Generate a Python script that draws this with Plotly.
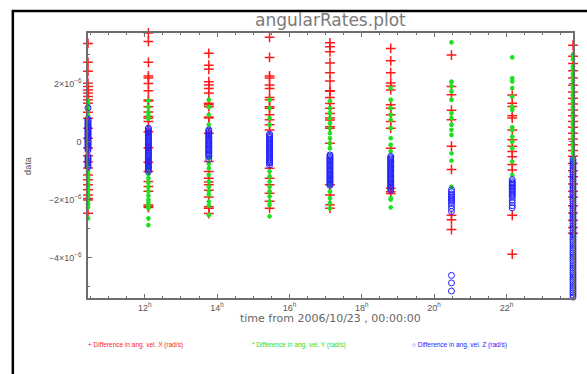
import plotly.graph_objects as go

# Pass times (hours after 2006/10/23 00:00:00)
pass_hours = [10.43, 12.10, 13.77, 15.45, 17.12, 18.80, 20.48, 22.16, 23.84]

# Differences in angular velocity, units of 1e-6 rad/s, one list per pass
diff_x = [
    [3.39, 2.74, 2.43, 2.02, 1.91, 1.79, 1.68, 1.56, 1.45, 1.33, 1.02, 0.81, 0.47, 0.12, -0.21, -0.48,
     -0.69, -0.9, -1.14, -1.31, -1.48, -1.65, -1.83, -1.95, -2.0, -2.46],
    [3.75, 3.46, 2.74, 2.27, 2.2, 2.01, 1.76, 1.44, 1.41, 1.21, 1.03, 0.87, 0.81, 0.7, 0.35, -0.2,
     -0.7, -1.02, -1.37, -1.54, -1.7, -2.18, -2.23, -2.26],
    [3.05, 2.64, 2.5, 2.07, 1.96, 1.84, 1.68, 1.33, 1.28, 1.21, 0.86, 0.82, 0.3, -0.68, -1.02, -1.25,
     -1.38, -1.48, -1.67, -1.9, -2.24, -2.29, -2.47],
    [3.6, 2.91, 2.27, 2.2, 1.96, 1.84, 1.53, 1.45, 1.21, 1.16, 0.93, 0.76, 0.59, 0.41, -0.91, -1.25,
     -1.48, -1.77, -2.05, -2.29],
    [3.41, 3.28, 3.1, 2.72, 2.38, 2.1, 1.76, 1.74, 1.53, 1.32, 1.16, 0.98, 0.82, 0.75, 0.52, 0.47,
     -0.05, -1.48, -1.83, -2.17, -2.29],
    [3.22, 2.79, 2.38, 2.03, 1.92, 1.79, 1.28, 1.16, 0.93, 0.7, 0.47, -0.22, -1.6, -1.72, -1.78],
    [2.99, 1.91, 1.62, 1.09, 0.76, -0.15, -0.95, -2.53, -2.68, -3.02],
    [1.61, 1.33, 1.22, 0.9, 0.82, 0.41, 0.07, -0.15, -0.33, -0.51, -0.78, -0.97, -2.53, -3.87],
    [3.33, 2.95, 2.7, 2.45, 2.2, 1.95, 1.72, 1.5, 1.3, 1.1, 0.9, 0.7, 0.5, 0.3, 0.1, -0.1, -0.3,
     -0.5, -0.75, -1.0, -1.2, -1.45, -1.7, -1.9, -2.2, -2.45, -2.7, -2.95, -3.15],
]

diff_y = [
    [1.42, 1.32, 1.22, 1.12, 0.92, 0.5, -0.62, -0.82, -1.0, -1.1, -1.22, -1.33, -1.45, -1.56, -1.7,
     -1.8, -1.9, -2.05, -2.15, -2.26, -2.64],
    [1.42, 1.2, 1.02, 0.9, 0.8, -0.9, -1.1, -1.25, -1.4, -1.55, -1.7, -1.85, -2.0, -2.1, -2.2, -2.28,
     -2.64, -2.87],
    [1.45, 1.2, 0.93, 0.59, -0.56, -0.75, -0.91, -1.14, -1.37, -1.54, -1.7, -1.83, -2.06, -2.2, -2.52],
    [1.45, 1.16, 0.82, 0.59, -1.02, -1.19, -1.37, -1.54, -1.71, -1.88, -2.06, -2.17, -2.57],
    [1.4, 1.16, 0.99, 0.82, 0.64, 0.47, 0.3, 0.13, -0.05, -0.22, -1.48, -1.71, -1.94, -2.11, -2.29],
    [1.85, 1.45, 1.16, 0.93, 0.76, 0.47, 0.13, -0.1, -0.33, -1.94, -1.99, -2.26],
    [3.43, 2.07, 1.91, 1.74, 1.45, 0.99, 0.82, 0.59, 0.41, 0.24, -0.4, -0.65, -1.55],
    [2.91, 2.19, 2.08, 1.85, 1.56, 1.2, 1.1, 0.5, 0.41, 0.18, 0.01, -0.22, -0.68, -1.15],
    [3.0, 2.85, 2.6, 2.5, 2.35, 2.25, 2.1, 1.95, 1.85, 1.7, 1.6, 1.45, 1.35, 1.2, 1.1, 0.95, 0.85,
     0.7, 0.6, 0.45, 0.35, 0.2, 0.1, -0.05, -0.15, -0.3, -0.4, -0.55, -0.69],
]

diff_z = [
    [1.17, 0.78, 0.73, 0.69, 0.64, 0.61, 0.56, 0.52, 0.49, 0.44, 0.4, 0.37, 0.32, 0.28, 0.25, 0.2,
     0.16, 0.13, 0.08, 0.04, 0.01, -0.04, -0.08, -0.11, -0.16, -0.2, -0.23, -0.29, -0.5, -0.55,
     -0.61, -0.67, -0.73, -0.8, -0.86],
    [0.47, 0.43, 0.38, 0.34, 0.3, 0.25, 0.21, 0.17, 0.12, 0.08, 0.04, -0.01, -0.05, -0.09, -0.14,
     -0.18, -0.22, -0.27, -0.31, -0.35, -0.4, -0.44, -0.48, -0.53, -0.57, -0.61, -0.66, -0.7, -0.74,
     -0.79, -0.83, -0.87, -0.92, -0.96, -1.02],
    [0.41, 0.37, 0.32, 0.28, 0.24, 0.19, 0.15, 0.11, 0.06, 0.02, -0.02, -0.07, -0.11, -0.15, -0.2,
     -0.24, -0.28, -0.33, -0.37, -0.41, -0.46, -0.5, -0.6],
    [0.27, 0.22, 0.18, 0.14, 0.09, 0.05, 0.01, -0.04, -0.08, -0.12, -0.17, -0.21, -0.25, -0.3, -0.34,
     -0.38, -0.43, -0.47, -0.51, -0.56, -0.6, -0.64, -0.69, -0.73, -0.8],
    [-0.45, -0.49, -0.54, -0.58, -0.62, -0.67, -0.71, -0.75, -0.8, -0.84, -0.88, -0.93, -0.97, -1.01,
     -1.06, -1.1, -1.14, -1.19, -1.23, -1.27, -1.32, -1.36, -1.4, -1.45, -1.5],
    [-0.5, -0.55, -0.59, -0.63, -0.68, -0.72, -0.76, -0.81, -0.85, -0.89, -0.94, -0.98, -1.02, -1.07,
     -1.11, -1.15, -1.2, -1.24, -1.28, -1.33, -1.37, -1.41, -1.46, -1.5, -1.55, -1.6, -1.66],
    [-1.65, -1.72, -1.8, -1.85, -1.9, -1.95, -2.0, -2.05, -2.12, -2.2, -2.3, -2.4, -4.6, -4.86, -5.14],
    [-1.3, -1.37, -1.42, -1.46, -1.5, -1.55, -1.6, -1.65, -1.7, -1.75, -1.8, -1.85, -1.9, -2.0, -2.1,
     -2.2, -2.27],
    [-0.6, -0.68, -0.75, -0.83, -0.9, -0.98, -1.06, -1.13, -1.21, -1.29, -1.36, -1.44, -1.52, -1.59,
     -1.67, -1.75, -1.82, -1.9, -1.98, -2.05, -2.13, -2.21, -2.28, -2.36, -2.44, -2.51, -2.59, -2.67,
     -2.74, -2.82, -2.9, -2.97, -3.05, -3.13, -3.2, -3.28, -3.36, -3.43, -3.51, -3.59, -3.66, -3.74,
     -3.82, -3.89, -3.97, -4.05, -4.12, -4.2, -4.28, -4.35, -4.43, -4.51, -4.58, -4.66, -4.74, -4.81,
     -4.89, -4.97, -5.04, -5.12, -5.2, -5.27, -5.35],
]

series_names = ["Difference in ang. vel. X (rad/s)",
                "Difference in ang. vel. Y (rad/s)",
                "Difference in ang. vel. Z (rad/s)"]
series_colors = ["#ff1a1a", "#1ee01e", "#2222ff"]

x_tickvals = [12, 14, 16, 18, 20, 22]
x_ticktext = ["12<sup>h</sup>", "14<sup>h</sup>", "16<sup>h</sup>",
              "18<sup>h</sup>", "20<sup>h</sup>", "22<sup>h</sup>"]
y_tickvals = [-4, -2, 0, 2]
y_ticktext = ["\u22124\u00d710<sup>\u22126</sup>", "\u22122\u00d710<sup>\u22126</sup>",
              "0", "2\u00d710<sup>\u22126</sup>"]


def flatten(per_pass):
    xs, ys = [], []
    for t, vals in zip(pass_hours, per_pass):
        xs.extend([t] * len(vals))
        ys.extend(vals)
    return xs, ys


marker_styles = [
    dict(symbol="cross-thin-open", size=7, line=dict(width=1.5)),
    dict(symbol="asterisk-open", size=4, line=dict(width=1.3)),
    dict(symbol="circle-open", size=6, line=dict(width=1)),
]

fig = go.Figure()
for data, name, color, mk in zip([diff_x, diff_y, diff_z], series_names, series_colors, marker_styles):
    xs, ys = flatten(data)
    fig.add_trace(go.Scatter(x=xs, y=ys, mode="markers", name=name,
                             marker=dict(color=color, **mk), cliponaxis=False,
                             showlegend=False))

axis_color = "#6e6e6e"
tick_font = dict(family="Liberation Sans", size=9, color="#555555")

fig.update_xaxes(range=[10.43, 23.84], tickmode="array", tickvals=x_tickvals, ticktext=x_ticktext,
                 ticks="inside", ticklen=4, tickcolor=axis_color, showline=True, linecolor=axis_color,
                 linewidth=1.5, mirror="allticks", showgrid=False, zeroline=False, tickfont=tick_font,
                 minor=dict(tickmode="linear", tick0=10.5, dtick=0.5, ticks="inside", ticklen=2,
                            tickcolor=axis_color, showgrid=False))
fig.update_yaxes(range=[-5.38, 3.75], tickmode="array", tickvals=y_tickvals, ticktext=y_ticktext,
                 ticks="inside", ticklen=4, tickcolor=axis_color, showline=True, linecolor=axis_color,
                 linewidth=1.5, mirror="allticks", showgrid=False, zeroline=False, tickfont=tick_font,
                 ticklabelstandoff=3,
                 minor=dict(tickmode="linear", tick0=-5, dtick=1, ticks="inside", ticklen=2,
                            tickcolor=axis_color, showgrid=False))

annotations = [
    dict(text="angularRates.plot", x=0.5, y=1.049, xref="paper", yref="paper", showarrow=False,
         xanchor="center", yanchor="middle",
         font=dict(family="DejaVu Sans", size=17, color="#7a7a7a")),
    dict(text="time from 2006/10/23 , 00:00:00", x=0.5, y=-0.078, xref="paper", yref="paper",
         showarrow=False, xanchor="center", yanchor="middle",
         font=dict(family="DejaVu Sans", size=11, color="#666666")),
    dict(text="data", x=-0.125, y=0.5, xref="paper", yref="paper", showarrow=False, textangle=-90,
         xanchor="center", yanchor="middle",
         font=dict(family="Liberation Sans", size=9, color="#555555")),
]

legend_symbols = ["+", "*", "\u25cb"]
legend_x = [-0.005, 0.333, 0.664]
for sym, name, color, lx in zip(legend_symbols, series_names, series_colors, legend_x):
    annotations.append(dict(text=f"{sym} {name}", x=lx, y=-0.177, xref="paper", yref="paper",
                            showarrow=False, xanchor="left", yanchor="middle",
                            font=dict(family="Liberation Sans", size=6.5, color=color)))

# Black frame around the page
shapes = [dict(type="rect", xref="paper", yref="paper", x0=-0.155, x1=1.2, y0=-0.6, y1=1.083,
               line=dict(color="black", width=2.5), fillcolor="rgba(0,0,0,0)", layer="below")]

fig.update_layout(width=587, height=374, margin=dict(l=88, r=12, t=33, b=76),
                  paper_bgcolor="white", plot_bgcolor="white",
                  annotations=annotations, shapes=shapes, showlegend=False)

fig.write_html("out.html")
